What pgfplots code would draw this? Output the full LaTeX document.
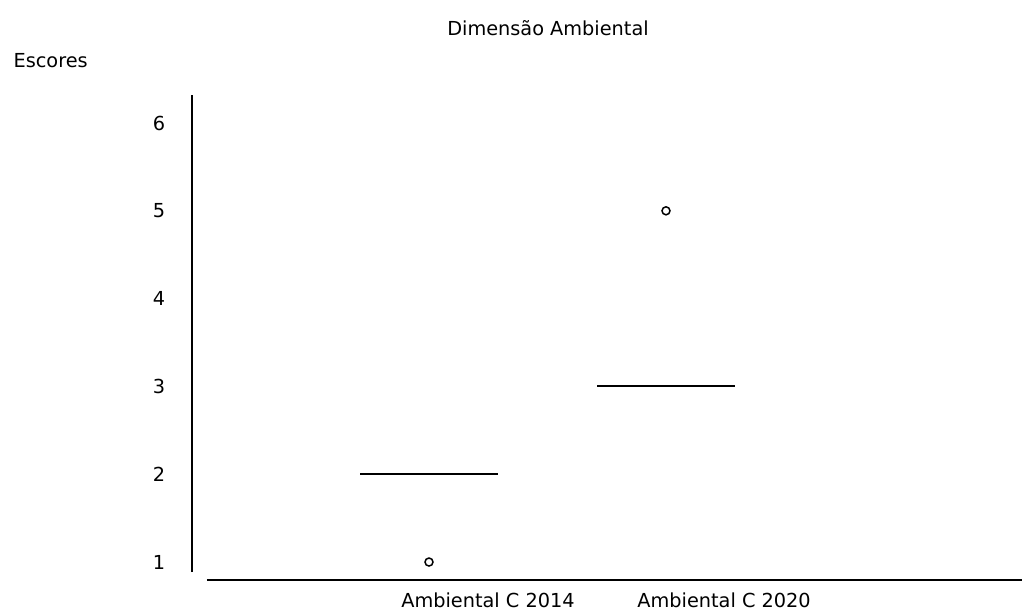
\documentclass[border=0pt]{standalone}
\usepackage{fontspec}
\setmainfont{DejaVu Sans}
\usepackage{pgfplots}
\pgfplotsset{compat=1.18}
\begin{document}%
\fontsize{19.3}{23}\selectfont%
\begin{tikzpicture}
\begin{axis}[
  name=ax,
  anchor=south west,
  scale only axis, width=829.5pt, height=487.3pt,
  xmin=0, xmax=3.5, ymin=0.8, ymax=6.35,
  axis line style={draw=none},
  major tick length=0pt,
  xtick={1.249,2.245},
  xticklabels={Ambiental C 2014, Ambiental C 2020},
  ytick={1,2,3,4,5,6},
  yticklabel style={anchor=center, xshift=-33pt},
  xticklabel style={anchor=center, yshift=-21pt},
  /pgf/number format/assume math mode=true,
  clip=false,
]
% axis lines (separate, not joined)
\draw[line width=2pt] (axis cs:0,0.886) -- (axis cs:0,6.32);
\draw[line width=2pt] (axis cs:0.063,0.8) -- (axis cs:3.5,0.8);
% medians (collapsed boxes)
\addplot[black, line width=2pt] coordinates {(0.709,2) (1.291,2)};
\addplot[black, line width=2pt] coordinates {(1.709,3) (2.291,3)};
% outliers
\addplot[only marks, black, mark=o, mark size=4pt, line width=1.5pt] coordinates {(1,1) (2,5)};
\end{axis}
\coordinate (O) at ([shift={(-192pt,-33.4pt)}]ax.south west);
\node[anchor=center] at ([shift={(548pt,585pt)}]O) {Dimensão Ambiental};
\node[anchor=west] at ([shift={(7pt,552pt)}]O) {Escores};
\pgfresetboundingbox
\useasboundingbox (O) rectangle ([shift={(1029pt,613pt)}]O);
\end{tikzpicture}%
\end{document}
